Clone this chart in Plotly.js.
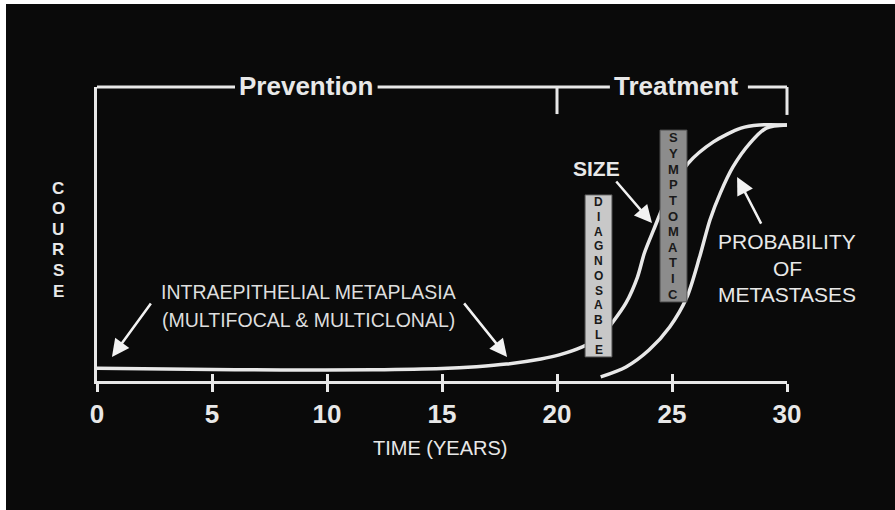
<!DOCTYPE html>
<html><head><meta charset="utf-8">
<script src="https://cdn.plot.ly/plotly-3.0.1.min.js"></script>
<style>html,body{margin:0;padding:0;background:#ffffff;} #chart{position:absolute;left:6px;top:4px;width:889px;height:506px;}</style>
</head><body><div id="chart"></div>
<script>
// ---- data ----
const tickYears = [0, 5, 10, 15, 20, 25, 30];
const tickLabels = ['0', '5', '10', '15', '20', '25', '30'];
const sizeX = [0, 4, 8, 12, 15, 16.5, 17.8, 19.3, 20.1, 21.1, 21.9, 22.4, 23.0, 23.5, 23.8, 24.2, 24.8, 25.7, 26.8, 28.0, 28.8, 30];
const sizeY = [5, 4.6, 4.3, 4.4, 4.9, 5.6, 6.6, 8.6, 10.2, 13.3, 17.2, 22.7, 30.5, 40.6, 50, 59, 71.9, 85, 93.4, 98.8, 100, 100];
const metX = [21.9, 23.0, 24.0, 24.9, 25.65, 26.2, 26.65, 27.1, 27.65, 28.4, 29.1, 30];
const metY = [1.6, 5.5, 12.1, 21.1, 32.8, 48.4, 62.9, 73.4, 83.6, 93, 98.8, 100];
const phaseLabels = ['Prevention', 'Treatment'];
const phaseBoundary = 20;
const stageLabels = ['DIAGNOSABLE', 'SYMPTOMATIC'];
const yTitle = 'COURSE';
const xTitle = 'TIME (YEARS)';
const noteLines = ['INTRAEPITHELIAL METAPLASIA', '(MULTIFOCAL & MULTICLONAL)'];
const sizeLabel = 'SIZE';
const metLines = ['PROBABILITY', 'OF', 'METASTASES'];

// ---- styling ----
const FG = '#e8e8e8', BG = '#0a0a0a';
const FONT = 'Liberation Sans, Arial, sans-serif';
const X0 = 0, X1 = 30, YTOP = 114.84;
const PW = 690, PH = 294; // plot area size in px
const px = x => (x - X0) / (X1 - X0);

const shapes = [];
const annotations = [];
const lineStyle = {color: FG, width: 3};
function seg(x0, y0, x1, y1) {
  shapes.push({type: 'line', xref: 'paper', yref: 'paper', x0: x0, y0: y0, x1: x1, y1: y1, line: lineStyle, layer: 'above'});
}
// top bracket
seg(px(0), 1, px(6.0), 1);
seg(px(12.2), 1, px(22.3), 1);
seg(px(28.3), 1, px(30), 1);
seg(px(phaseBoundary), 1, px(phaseBoundary), 0.908);
seg(px(30), 1, px(30), 0.905);

annotations.push({xref: 'paper', yref: 'paper', x: px(9.09), y: 1.003, text: phaseLabels[0], showarrow: false,
  font: {family: FONT, size: 26, color: FG, weight: 'bold'}, xanchor: 'center', yanchor: 'middle'});
annotations.push({xref: 'paper', yref: 'paper', x: px(25.2), y: 1.003, text: phaseLabels[1], showarrow: false,
  font: {family: FONT, size: 26, color: FG, weight: 'bold'}, xanchor: 'center', yanchor: 'middle'});

// stage boxes (drawn over curves)
const boxes = [
  {label: stageLabels[0], x0: 21.22, x1: 22.39, y0: 9.4, y1: 72.7, fill: '#c8c8c8', size: 12},
  {label: stageLabels[1], x0: 24.48, x1: 25.65, y0: 30.9, y1: 98.0, fill: '#8c8c8c', size: 13}
];
boxes.forEach(b => {
  shapes.push({type: 'rect', xref: 'x', yref: 'y', x0: b.x0, x1: b.x1, y0: b.y0, y1: b.y1,
    fillcolor: b.fill, line: {color: '#555', width: 1}, layer: 'above'});
  const n = b.label.length, step = (b.y1 - b.y0) / n;
  for (let i = 0; i < n; i++) {
    annotations.push({xref: 'x', yref: 'y', x: (b.x0 + b.x1) / 2, y: b.y1 - (i + 0.5) * step, text: b.label[i],
      showarrow: false, borderpad: 0, font: {family: FONT, size: b.size, color: '#1a1a1a', weight: 'bold'},
      xanchor: 'center', yanchor: 'middle'});
  }
});

// vertical y title
for (let i = 0; i < yTitle.length; i++) {
  annotations.push({xref: 'paper', yref: 'paper', x: (58 - 97) / PW, y: (381 - (188 + i * 20.6)) / PH, text: yTitle[i],
    showarrow: false, borderpad: 0, font: {family: FONT, size: 17, color: FG, weight: 'bold'}, xanchor: 'center', yanchor: 'middle'});
}
// x title
annotations.push({xref: 'paper', yref: 'paper', x: (440 - 97) / PW, y: (381 - 448) / PH, text: xTitle, showarrow: false,
  font: {family: FONT, size: 20, color: FG}, xanchor: 'center', yanchor: 'middle'});

// note text
annotations.push({xref: 'x', yref: 'y', x: 9.2, y: 34.8, text: noteLines[0], showarrow: false,
  font: {family: FONT, size: 19.5, color: '#dedede'}, xanchor: 'center', yanchor: 'middle'});
annotations.push({xref: 'x', yref: 'y', x: 9.2, y: 23.8, text: noteLines[1], showarrow: false,
  font: {family: FONT, size: 19.5, color: '#dedede'}, xanchor: 'center', yanchor: 'middle'});
// size label
annotations.push({xref: 'x', yref: 'y', x: 21.73, y: 83.1, text: sizeLabel, showarrow: false,
  font: {family: FONT, size: 21, color: FG, weight: 'bold'}, xanchor: 'center', yanchor: 'middle'});
// metastases label
[54.3, 44.1, 33.6].forEach((yy, i) => {
  annotations.push({xref: 'x', yref: 'y', x: 30, y: yy, text: metLines[i], showarrow: false,
    font: {family: FONT, size: 21, color: FG}, xanchor: 'center', yanchor: 'middle'});
});

// arrows
function arrow(tx, ty, hx, hy) {
  annotations.push({xref: 'x', yref: 'y', axref: 'x', ayref: 'y', x: hx, y: hy, ax: tx, ay: ty, text: '',
    showarrow: true, arrowhead: 2, arrowsize: 1.4, arrowwidth: 2.5, arrowcolor: '#f2f2f2', standoff: 0, startstandoff: 0});
}
arrow(2.39, 30.9, 0.65, 9.4);
arrow(15.91, 30.9, 17.83, 9.4);
arrow(22.52, 78.5, 24.13, 61.7);
arrow(28.91, 60.9, 27.83, 79.7);

const traces = [
  {x: sizeX, y: sizeY, type: 'scatter', mode: 'lines', line: {color: FG, width: 3.5, shape: 'spline', smoothing: 0.8},
    cliponaxis: false, hoverinfo: 'skip', showlegend: false},
  {x: metX, y: metY, xaxis: 'x2', type: 'scatter', mode: 'lines', line: {color: FG, width: 3.5, shape: 'spline', smoothing: 0.8},
    cliponaxis: false, hoverinfo: 'skip', showlegend: false}
];

const layout = {
  width: 889, height: 506,
  margin: {l: 91, r: 108, t: 83, b: 129},
  paper_bgcolor: BG, plot_bgcolor: BG,
  showlegend: false,
  xaxis: {range: [X0, X1], tickmode: 'array', tickvals: tickYears, ticktext: tickLabels,
    ticks: 'outside', ticklen: 8, tickwidth: 3, tickcolor: FG,
    showline: true, linecolor: FG, linewidth: 3, showgrid: false, zeroline: false,
    tickfont: {family: FONT, size: 26, color: FG, weight: 'bold'}, fixedrange: true},
  xaxis2: {range: [X0, X1], overlaying: 'x', anchor: 'y', side: 'bottom', tickmode: 'array', tickvals: tickYears,
    ticks: 'inside', ticklen: 7, tickwidth: 3, tickcolor: FG, showticklabels: false,
    showline: false, showgrid: false, zeroline: false, fixedrange: true},
  yaxis: {range: [0, YTOP], showline: true, linecolor: FG, linewidth: 3, showticklabels: false, ticks: '',
    showgrid: false, zeroline: false, fixedrange: true},
  shapes: shapes,
  annotations: annotations
};
Plotly.newPlot('chart', traces, layout, {displayModeBar: false, staticPlot: true});
</script>
</body></html>
